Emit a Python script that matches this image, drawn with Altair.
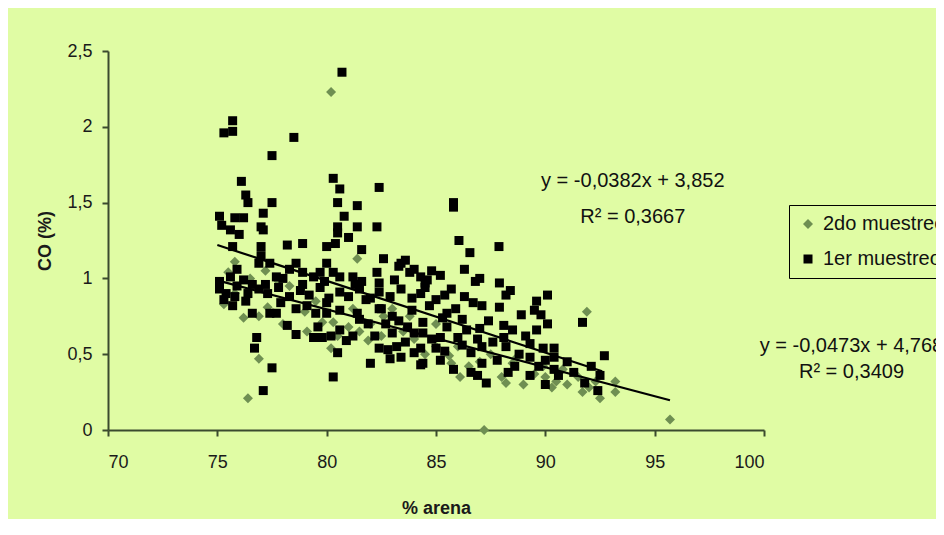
import altair as alt
import pandas as pd

# ---- data: 1er muestreo (black squares) ----
sq_x = [75.7, 75.3, 75.7, 78.5, 77.5, 80.7, 76.1, 80.3, 80.6, 82.4, 76.3, 76.4, 77.5, 80.5, 81.4, 85.8, 85.8,
        75.1, 75.8, 76.2, 77.1, 80.8, 75.2, 75.6, 76.0, 77.0, 77.1, 80.5, 81.4, 82.3, 80.5, 81.0,
        75.7, 77.0, 78.2, 78.9, 80.0, 80.4, 81.6, 86.05, 86.55, 87.88, 82.6, 83.3, 83.6, 84.0, 84.8, 85.2, 86.3, 87.0, 88.4, 89.6,
        75.1, 75.6, 75.9, 76.2, 76.9, 77.0, 77.4, 77.7, 78.3, 78.6, 78.9, 79.4, 79.7, 80.0, 80.3, 80.6, 81.2, 81.6, 82.3, 82.4, 83.4, 83.8, 84.3, 84.5,
        75.1, 75.4, 75.9, 76.4, 76.9, 77.3, 77.8, 78.3, 78.8, 79.2, 79.7, 80.1, 80.6, 81.0, 81.5, 82.0, 82.4, 82.9, 83.4, 83.9, 84.3,
        75.7, 76.6, 77.4, 77.7, 78.2, 78.6, 76.8, 76.7, 79.4, 79.8, 80.9, 80.5, 77.5, 77.1, 80.3, 82.0, 82.9, 84.3, 82.4, 83.2, 84.3,
        79.5, 80.0, 80.6, 81.4, 81.8, 82.4, 83.0, 83.7, 84.0, 83.0, 82.8, 83.4, 84.0, 81.5, 80.6, 80.0, 79.1,
        75.3, 76.3, 77.9, 78.6,
        86.7, 87.1, 87.9, 86.8, 87.9, 88.2, 90.1, 88.9, 89.5, 89.8, 90.1, 91.7, 84.6, 84.5, 85.0, 85.4, 85.5, 85.5, 86.2, 87.0,
        88.1, 84.4, 84.4, 85.2, 86.0, 86.2, 86.6, 87.1, 88.1, 88.2, 89.3, 89.9, 90.4, 89.3, 90.0, 90.4, 84.4, 85.0, 85.2, 85.8,
        86.6, 87.1, 88.3, 89.3, 90.0, 90.4, 87.3, 92.1, 92.5, 91.8, 92.4, 92.7,
        82.2, 82.7, 83.3, 83.9, 84.7, 85.3, 85.9, 86.4, 86.9, 87.4, 87.6, 88.5, 88.8, 89.1, 89.6, 89.7, 90.6, 91.0, 91.3, 88.6,
        87.8, 86.9, 85.4, 84.8, 83.6, 82.5, 81.9, 81.2, 80.2, 79.6, 78.9, 78.0, 76.6, 75.8, 77.2, 79.9, 81.3, 83.1, 85.7, 86.3]
sq_y = [2.04, 1.96, 1.97, 1.93, 1.81, 2.36, 1.64, 1.66, 1.59, 1.60, 1.55, 1.50, 1.50, 1.50, 1.48, 1.50, 1.47,
        1.41, 1.40, 1.40, 1.43, 1.41, 1.35, 1.32, 1.29, 1.34, 1.32, 1.34, 1.34, 1.34, 1.30, 1.27,
        1.21, 1.21, 1.22, 1.23, 1.21, 1.23, 1.19, 1.25, 1.17, 1.21, 1.13, 1.08, 1.12, 1.06, 1.05, 1.02, 1.06, 1.00, 0.92, 0.85,
        0.98, 1.01, 1.06, 0.99, 1.10, 1.15, 1.10, 1.01, 1.06, 1.10, 1.04, 1.01, 1.04, 1.10, 1.04, 1.01, 1.01, 0.98, 1.04, 0.97, 1.10, 1.04, 1.01, 0.97,
        0.93, 0.90, 0.95, 0.90, 0.93, 0.90, 0.94, 0.88, 0.92, 0.89, 0.94, 0.87, 0.91, 0.88, 0.93, 0.87, 0.91, 0.88, 0.93, 0.87, 0.90,
        0.82, 0.77, 0.77, 0.77, 0.69, 0.63, 0.61, 0.54, 0.61, 0.61, 0.59, 0.51, 0.41, 0.26, 0.35, 0.44, 0.47, 0.43, 0.54, 0.55, 0.54,
        0.77, 0.77, 0.79, 0.77, 0.86, 0.80, 0.75, 0.68, 0.64, 0.64, 0.53, 0.48, 0.51, 0.73, 0.66, 0.84, 0.82,
        0.86, 0.85, 0.84, 0.80,
        0.84, 0.82, 0.81, 0.98, 0.97, 0.89, 0.89, 0.76, 0.79, 0.76, 0.70, 0.71, 0.99, 0.94, 0.86, 0.89, 0.77, 0.68, 0.73, 0.67,
        0.69, 0.71, 0.64, 0.61, 0.61, 0.56, 0.51, 0.55, 0.61, 0.55, 0.57, 0.54, 0.54, 0.48, 0.46, 0.48, 0.44, 0.54, 0.46, 0.40,
        0.38, 0.44, 0.38, 0.36, 0.30, 0.40, 0.31, 0.42, 0.36, 0.31, 0.26, 0.49,
        0.62, 0.70, 0.72, 0.79, 0.82, 0.74, 0.80, 0.66, 0.60, 0.72, 0.58, 0.66, 0.50, 0.62, 0.66, 0.42, 0.36, 0.45, 0.38, 0.42,
        0.46, 0.36, 0.52, 0.60, 0.58, 0.80, 0.70, 0.62, 0.62, 0.68, 0.96, 1.00, 0.96, 0.88, 0.96, 0.98, 0.96, 0.99, 0.93, 0.88]

# ---- data: 2do muestreo (grey-green diamonds) ----
di_x = [80.2, 81.4, 75.8, 78.3, 75.3, 76.2, 77.3, 79.1, 80.2, 81.0, 81.9, 76.9, 76.4, 79.8, 80.3, 81.5, 82.6,
        91.9, 85.6, 86.1, 88.2, 90.5, 91.7, 92.5, 93.2, 93.2, 87.2, 95.7, 85.7, 88.7, 89.9,
        75.5, 77.2, 77.8, 79.5, 83.0, 84.0, 85.0, 87.0, 88.0, 90.0, 91.0, 92.0, 82.0, 83.5, 76.5, 75.8, 76.9,
        79.0, 80.5, 84.5, 86.5, 89.5, 90.8, 91.5, 92.3, 78.0, 81.2, 83.8, 86.0, 87.5, 88.5, 89.0, 90.3, 85.0, 82.5]
di_y = [2.23, 1.13, 1.11, 0.95, 0.83, 0.74, 0.81, 0.65, 0.54, 0.68, 0.59, 0.47, 0.21, 0.71, 0.71, 0.65, 0.75,
        0.78, 0.49, 0.35, 0.31, 0.32, 0.25, 0.21, 0.32, 0.25, 0.00, 0.07, 0.44, 0.48, 0.42,
        1.04, 1.05, 0.98, 0.85, 0.80, 0.60, 0.55, 0.45, 0.35, 0.35, 0.30, 0.28, 0.70, 0.65, 1.00, 0.90, 0.75,
        0.78, 0.62, 0.50, 0.42, 0.37, 0.40, 0.35, 0.32, 0.70, 0.80, 0.75, 0.55, 0.50, 0.44, 0.30, 0.28, 0.70, 0.62]

series_names = ["2do muestreo", "1er muestreo"]
series_colors = ["#6f8f52", "#000000"]
series_shapes = ["diamond", "square"]
series_sizes = [100, 81]

# trend lines (Excel equations)
trend_series = ["2do muestreo", "1er muestreo"]
trend_slope = [-0.0382, -0.0473]
trend_intercept = [3.852, 4.768]
trend_x_start = [75.0, 75.0]
trend_x_end = [95.7, 92.6]

# annotations
ann_text = ["y = -0,0382x + 3,852", "R² = 0,3667", "y = -0,0473x + 4,768", "R² = 0,3409"]
ann_x = [94.0, 94.0, 104.0, 104.0]
ann_y = [1.60, 1.365, 0.515, 0.343]

BG = "#e0fca4"
FONT = "Liberation Sans"

pts = pd.DataFrame({
    "x": di_x + sq_x,
    "y": di_y + sq_y,
    "series": [series_names[0]] * len(di_x) + [series_names[1]] * len(sq_x),
})

trend_df = pd.DataFrame({
    "series": trend_series,
    "x0": trend_x_start,
    "x1": trend_x_end,
    "y0": [m * x + b for m, b, x in zip(trend_slope, trend_intercept, trend_x_start)],
    "y1": [m * x + b for m, b, x in zip(trend_slope, trend_intercept, trend_x_end)],
})

ann_df = pd.DataFrame({"x": ann_x, "y": ann_y, "text": ann_text})

xscale = alt.Scale(domain=[70, 100], nice=False)
yscale = alt.Scale(domain=[0, 2.5], nice=False)

xaxis = alt.Axis(values=[70, 75, 80, 85, 90, 95, 100], title="% arena", labelPadding=17,
                 titleY=78, titleBaseline="middle")
yaxis = alt.Axis(values=[0, 0.5, 1, 1.5, 2, 2.5], title="CO (%)", labelPadding=10,
                 labelExpr="replace(toString(datum.value), '.', ',')",
                 titleX=-63, titleY=189.5, titleBaseline="middle", titleAlign="center")

legend = alt.Legend(title=None, orient="none", legendX=681, legendY=154,
                    strokeColor="black", fillColor=BG, padding=9,
                    labelFontSize=20, labelFont=FONT, labelColor="#111111",
                    symbolSize=40, symbolStrokeWidth=0, rowPadding=15, labelOffset=5)

points = alt.Chart(pts).mark_point(filled=True, opacity=1, strokeWidth=0).encode(
    x=alt.X("x:Q", scale=xscale, axis=xaxis),
    y=alt.Y("y:Q", scale=yscale, axis=yaxis),
    color=alt.Color("series:N", scale=alt.Scale(domain=series_names, range=series_colors), legend=legend),
    shape=alt.Shape("series:N", scale=alt.Scale(domain=series_names, range=series_shapes), legend=legend),
    size=alt.Size("series:N", scale=alt.Scale(domain=series_names, range=series_sizes), legend=None),
)

lines = alt.Chart(trend_df).mark_rule(color="black", strokeWidth=2.2).encode(
    x=alt.X("x0:Q", scale=xscale),
    x2="x1:Q",
    y=alt.Y("y0:Q", scale=yscale),
    y2="y1:Q",
)

ann = alt.Chart(ann_df).mark_text(align="center", baseline="alphabetic", fontSize=20,
                                  font=FONT, color="#111111").encode(
    x=alt.X("x:Q", scale=xscale),
    y=alt.Y("y:Q", scale=yscale),
    text="text:N",
)

chart = alt.layer(points, lines, ann).properties(
    width=656, height=379,
    background=BG,
    padding={"left": 100, "top": 43, "right": 172, "bottom": 89},
    autosize=alt.AutoSizeParams(type="none"),
).configure_view(stroke=None).configure_axis(
    grid=False,
    domainColor="#3b4a2e", domainWidth=2,
    tickColor="#3b4a2e", tickWidth=2, tickSize=6,
    labelFont=FONT, labelFontSize=18, labelColor="#1a1a1a",
    titleFont=FONT, titleFontSize=18, titleFontWeight="bold", titleColor="#1a1a1a",
)

chart.save("out.html", embed_options={"renderer": "svg", "actions": False})
